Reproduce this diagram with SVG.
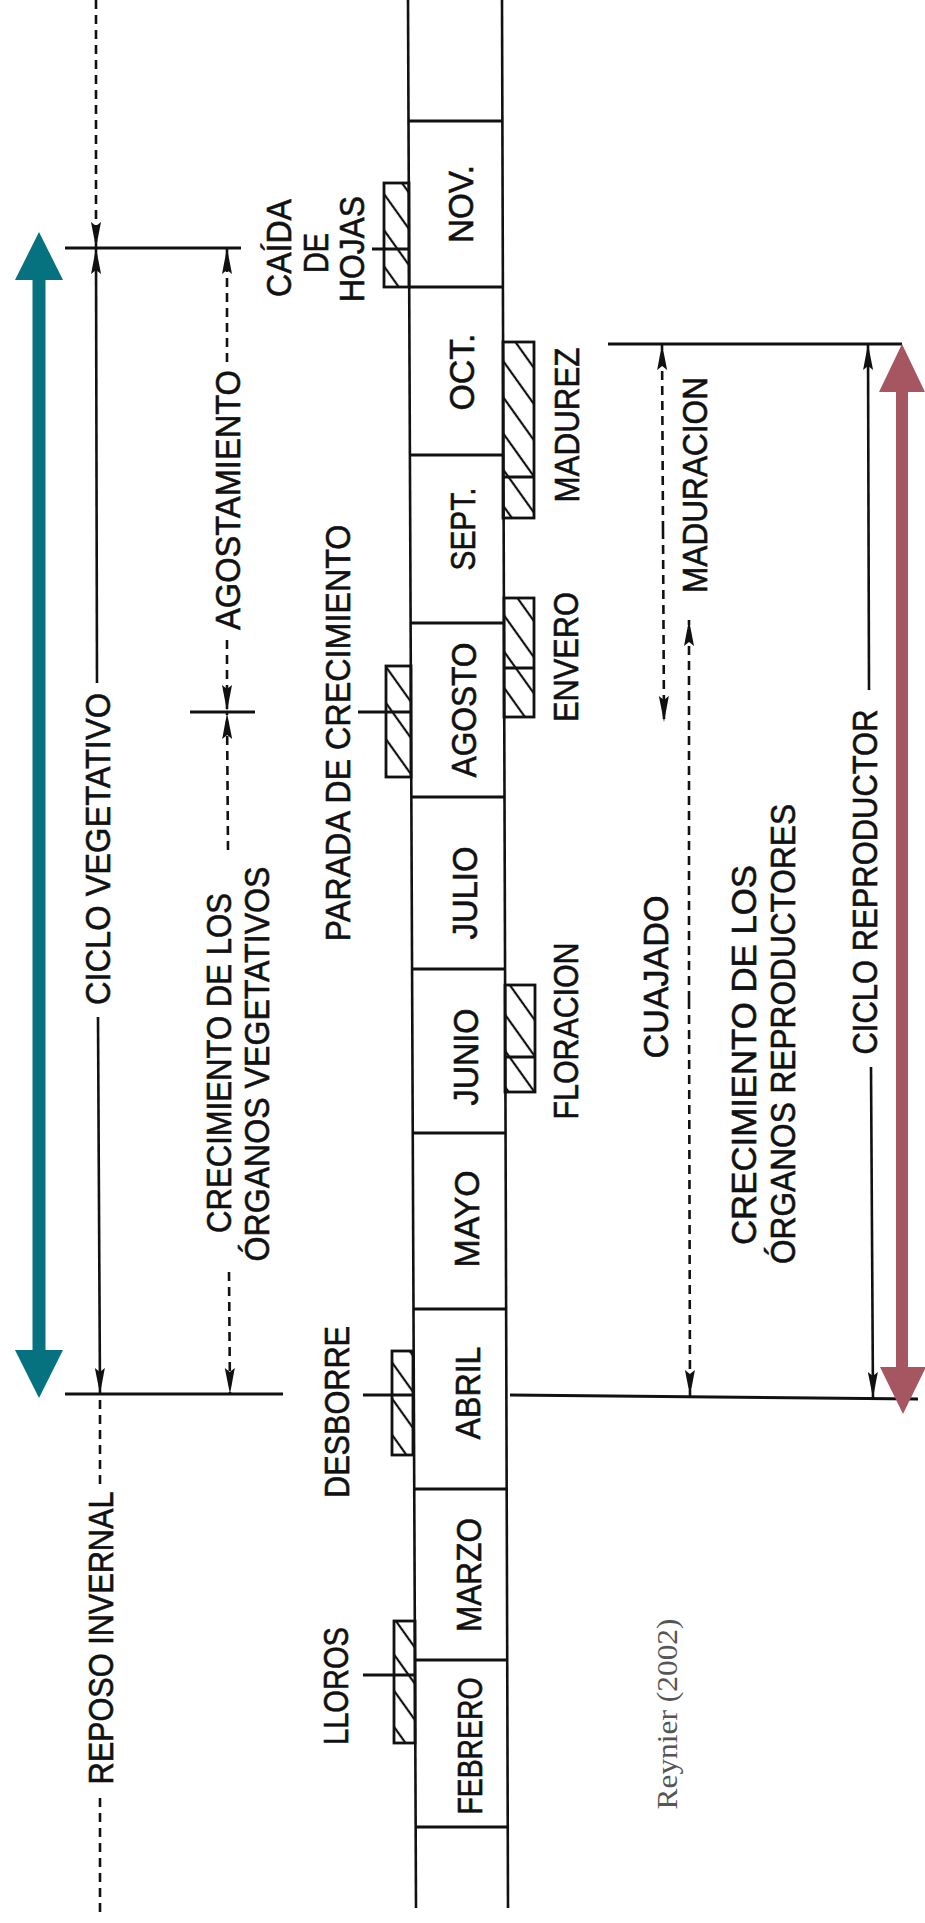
<svg xmlns="http://www.w3.org/2000/svg" width="925" height="1923" viewBox="0 0 925 1923">
<style>
.t{font-family:"Liberation Sans",Arial,sans-serif;font-size:35px;fill:#111;stroke:#111;stroke-width:0.6;text-anchor:middle}
.ref{font-family:"Liberation Serif","Times New Roman",serif;font-size:30px;fill:#555;text-anchor:middle}
.ln{stroke:#111;stroke-width:3;fill:none}
.st{stroke:#111;stroke-width:2.6;fill:none}
.ds{stroke:#111;stroke-width:2.6;fill:none;stroke-dasharray:9 6}
.hb{fill:url(#hatch);stroke:#111;stroke-width:2.8}
.teal{fill:#06727f}
.red{fill:#a65661}
</style>
<defs>
<marker id="ah" viewBox="0 0 26 11" refX="26" refY="5.5" markerWidth="26" markerHeight="11" markerUnits="userSpaceOnUse" orient="auto">
<path d="M0,0.5 L26,5.5 L0,10.5 L4,5.5 Z" fill="#111"/>
</marker>
<pattern id="hatch" patternUnits="userSpaceOnUse" width="10" height="21" patternTransform="rotate(54.5)">
<line x1="0" y1="10" x2="10" y2="10" stroke="#111" stroke-width="2.2"/>
</pattern>
</defs>
<rect width="925" height="1923" fill="#fff"/>

<!-- month strip -->
<g id="strip">
<line class="st" x1="408" y1="0" x2="416" y2="1908"/>
<line class="st" x1="502" y1="0" x2="508" y2="1908"/>
<line class="ln" x1="408" y1="121" x2="502" y2="121"/>
<line class="ln" x1="409" y1="287" x2="503" y2="287"/>
<line class="ln" x1="410" y1="455" x2="503" y2="455"/>
<line class="ln" x1="410" y1="623" x2="504" y2="623"/>
<line class="ln" x1="411" y1="797" x2="505" y2="797"/>
<line class="ln" x1="412" y1="969" x2="505" y2="969"/>
<line class="ln" x1="413" y1="1133" x2="506" y2="1133"/>
<line class="ln" x1="413" y1="1309" x2="506" y2="1309"/>
<line class="ln" x1="414" y1="1489" x2="507" y2="1489"/>
<line class="ln" x1="415" y1="1660" x2="507" y2="1660"/>
<line class="ln" x1="416" y1="1827" x2="508" y2="1827"/>
</g>
<g id="m-nov"><text class="t" transform="translate(473,204) rotate(-90)" textLength="78" lengthAdjust="spacingAndGlyphs">NOV.</text></g>
<g id="m-oct"><text class="t" transform="translate(474,372) rotate(-90)" textLength="77" lengthAdjust="spacingAndGlyphs">OCT.</text></g>
<g id="m-sept"><text class="t" transform="translate(475,529) rotate(-90)" textLength="83" lengthAdjust="spacingAndGlyphs">SEPT.</text></g>
<g id="m-agosto"><text class="t" transform="translate(476,710) rotate(-90)" textLength="135" lengthAdjust="spacingAndGlyphs">AGOSTO</text></g>
<g id="m-julio"><text class="t" transform="translate(477,893) rotate(-90)" textLength="93" lengthAdjust="spacingAndGlyphs">JULIO</text></g>
<g id="m-junio"><text class="t" transform="translate(478,1057) rotate(-90)" textLength="97" lengthAdjust="spacingAndGlyphs">JUNIO</text></g>
<g id="m-mayo"><text class="t" transform="translate(479,1219) rotate(-90)" textLength="97" lengthAdjust="spacingAndGlyphs">MAYO</text></g>
<g id="m-abril"><text class="t" transform="translate(480,1393) rotate(-90)" textLength="93" lengthAdjust="spacingAndGlyphs">ABRIL</text></g>
<g id="m-marzo"><text class="t" transform="translate(481,1575) rotate(-90)" textLength="114" lengthAdjust="spacingAndGlyphs">MARZO</text></g>
<g id="m-febrero"><text class="t" transform="translate(482,1746) rotate(-90)" textLength="137" lengthAdjust="spacingAndGlyphs">FEBRERO</text></g>

<!-- events (hatched boxes) -->
<g id="caida">
<rect class="hb" x="384" y="183" width="25" height="104"/>
<line class="ln" x1="372" y1="249" x2="409" y2="249"/>
<text class="t" transform="translate(291,248) rotate(-90)" textLength="98" lengthAdjust="spacingAndGlyphs">CAÍDA</text>
<text class="t" transform="translate(328,253) rotate(-90)" textLength="40" lengthAdjust="spacingAndGlyphs">DE</text>
<text class="t" transform="translate(364,249) rotate(-90)" textLength="106" lengthAdjust="spacingAndGlyphs">HOJAS</text>
</g>
<g id="parada">
<rect class="hb" x="386" y="666" width="25" height="111"/>
<line class="ln" x1="358" y1="712" x2="411" y2="712"/>
<text class="t" transform="translate(350,733) rotate(-90)" textLength="417" lengthAdjust="spacingAndGlyphs">PARADA DE CRECIMIENTO</text>
</g>
<g id="desborre">
<rect class="hb" x="392" y="1351" width="21" height="104"/>
<line class="ln" x1="363" y1="1395" x2="413" y2="1395"/>
<text class="t" transform="translate(349,1412) rotate(-90)" textLength="172" lengthAdjust="spacingAndGlyphs">DESBORRE</text>
</g>
<g id="lloros">
<rect class="hb" x="394" y="1621" width="21" height="122"/>
<line class="ln" x1="363" y1="1675" x2="415" y2="1675"/>
<text class="t" transform="translate(348,1686) rotate(-90)" textLength="118" lengthAdjust="spacingAndGlyphs">LLOROS</text>
</g>
<g id="madurez">
<rect class="hb" x="503" y="342" width="31" height="176"/>
<line class="ln" x1="503" y1="477" x2="534" y2="477"/>
<text class="t" transform="translate(579,425) rotate(-90)" textLength="155" lengthAdjust="spacingAndGlyphs">MADUREZ</text>
</g>
<g id="envero">
<rect class="hb" x="504" y="598" width="30" height="119"/>
<line class="ln" x1="504" y1="668" x2="534" y2="668"/>
<text class="t" transform="translate(578,657) rotate(-90)" textLength="130" lengthAdjust="spacingAndGlyphs">ENVERO</text>
</g>
<g id="floracion">
<rect class="hb" x="505" y="985" width="30" height="107"/>
<line class="ln" x1="505" y1="1057" x2="535" y2="1057"/>
<text class="t" transform="translate(578,1031) rotate(-90)" textLength="177" lengthAdjust="spacingAndGlyphs">FLORACION</text>
</g>

<!-- period labels -->
<g id="ciclo-veg"><text class="t" transform="translate(110,849) rotate(-90)" textLength="312" lengthAdjust="spacingAndGlyphs">CICLO VEGETATIVO</text></g>
<g id="reposo"><text class="t" transform="translate(113,1638) rotate(-90)" textLength="293" lengthAdjust="spacingAndGlyphs">REPOSO INVERNAL</text></g>
<g id="agostamiento"><text class="t" transform="translate(240,500) rotate(-90)" textLength="260" lengthAdjust="spacingAndGlyphs">AGOSTAMIENTO</text></g>
<g id="crec-veg">
<text class="t" transform="translate(231,1063) rotate(-90)" textLength="340" lengthAdjust="spacingAndGlyphs">CRECIMIENTO DE LOS</text>
<text class="t" transform="translate(269,1064) rotate(-90)" textLength="395" lengthAdjust="spacingAndGlyphs">ÓRGANOS VEGETATIVOS</text>
</g>
<g id="maduracion"><text class="t" transform="translate(707,485) rotate(-90)" textLength="216" lengthAdjust="spacingAndGlyphs">MADURACION</text></g>
<g id="cuajado"><text class="t" transform="translate(668,977) rotate(-90)" textLength="163" lengthAdjust="spacingAndGlyphs">CUAJADO</text></g>
<g id="crec-rep">
<text class="t" transform="translate(756,1055) rotate(-90)" textLength="380" lengthAdjust="spacingAndGlyphs">CRECIMIENTO DE LOS</text>
<text class="t" transform="translate(795,1034) rotate(-90)" textLength="460" lengthAdjust="spacingAndGlyphs">ÓRGANOS REPRODUCTORES</text>
</g>
<g id="ciclo-rep"><text class="t" transform="translate(877,882) rotate(-90)" textLength="345" lengthAdjust="spacingAndGlyphs">CICLO REPRODUCTOR</text></g>
<g id="source"><text class="ref" transform="translate(677,1714) rotate(-90)" textLength="191" lengthAdjust="spacingAndGlyphs">Reynier (2002)</text></g>

<!-- connectors -->
<g id="connectors">
<line class="ln" x1="65" y1="248" x2="241" y2="248"/>
<line class="ln" x1="65" y1="1394" x2="283" y2="1394"/>
<line class="ln" x1="190" y1="712" x2="255" y2="712"/>
<line class="ln" x1="608" y1="344" x2="902" y2="344"/>
<line class="ln" x1="510" y1="1395" x2="918" y2="1399"/>

<line class="ds" x1="96" y1="0" x2="96" y2="248" marker-end="url(#ah)"/>
<line class="st" x1="97" y1="683" x2="96" y2="248" marker-end="url(#ah)"/>
<line class="st" x1="98" y1="1017" x2="100" y2="1394" marker-end="url(#ah)"/>
<line class="ds" x1="100" y1="1400" x2="100" y2="1488"/>
<line class="ds" x1="100" y1="1798" x2="100" y2="1912"/>

<line class="ds" x1="227" y1="362" x2="227" y2="248" marker-end="url(#ah)"/>
<line class="ds" x1="227" y1="640" x2="227" y2="711" marker-end="url(#ah)"/>
<line class="ds" x1="228" y1="850" x2="227" y2="713" marker-end="url(#ah)"/>
<line class="ds" x1="229" y1="1272" x2="230" y2="1394" marker-end="url(#ah)"/>

<line class="ds" x1="663" y1="530" x2="662" y2="344" marker-end="url(#ah)"/>
<line class="ds" x1="663" y1="530" x2="664" y2="722" marker-end="url(#ah)"/>
<line class="ds" x1="689" y1="1000" x2="689" y2="620" marker-end="url(#ah)"/>
<line class="ds" x1="689" y1="1000" x2="690" y2="1396" marker-end="url(#ah)"/>

<line class="st" x1="869" y1="690" x2="868" y2="344" marker-end="url(#ah)"/>
<line class="st" x1="871" y1="1067" x2="873" y2="1398" marker-end="url(#ah)"/>
</g>

<!-- coloured cycle arrows -->
<g id="arrow-veg">
<path class="teal" d="M39,232 L63,280 L45.5,280 L45.5,1350 L63,1350 L39,1398 L15,1350 L32.5,1350 L32.5,280 L15,280 Z"/>
</g>
<g id="arrow-rep">
<path class="red" d="M902,344 L925,392 L908,392 L908,1367 L926,1367 L903,1414 L880,1367 L896,1367 L896,392 L879,392 Z"/>
</g>
</svg>
